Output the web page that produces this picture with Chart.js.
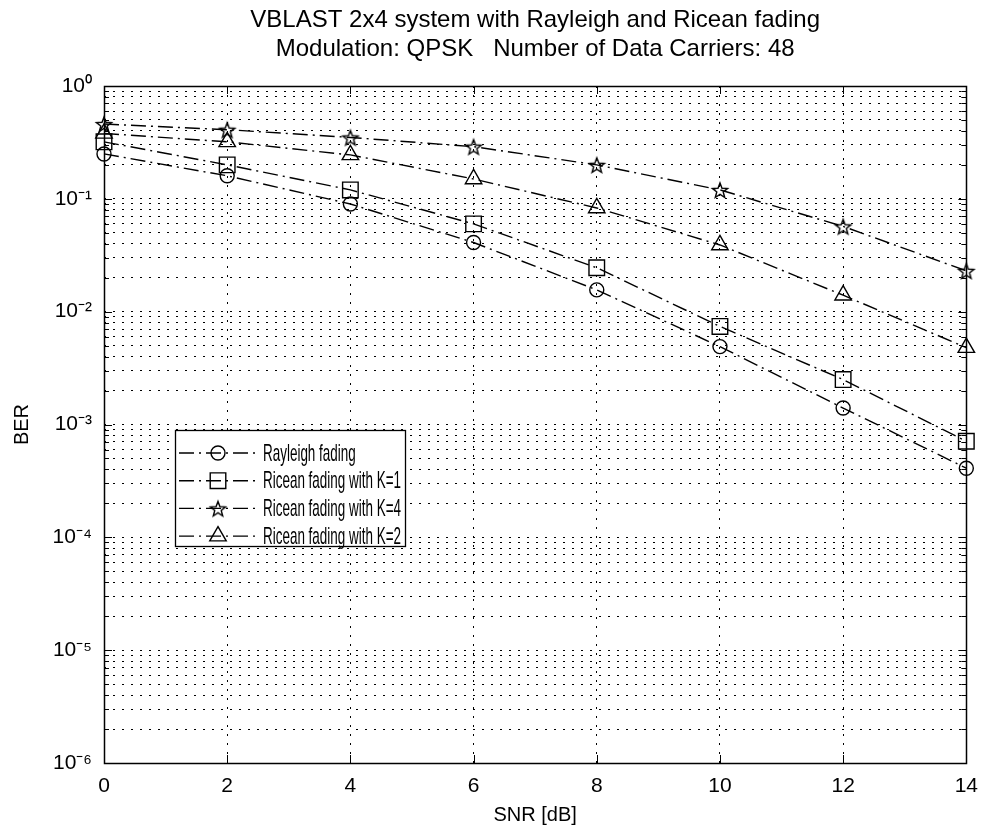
<!DOCTYPE html>
<html>
<head>
<meta charset="utf-8">
<title>VBLAST 2x4 BER</title>
<script src="https://cdn.jsdelivr.net/npm/chart.js@4.4.1/dist/chart.umd.min.js"></script>
<style>
body{margin:0;background:#fff;}
#wrap{width:989px;height:840px;}
</style>
</head>
<body>
<div id="wrap"><canvas id="berChart" width="989" height="840"></canvas></div>
<script>
// values
const snr = [0, 2, 4, 6, 8, 10, 12, 14];
const rayleigh = [0.25, 0.16, 0.09, 0.041, 0.0156, 0.0049, 0.0014, 0.00041];
const riceanK1 = [0.32, 0.20, 0.12, 0.06, 0.0245, 0.0074, 0.0025, 0.00071];
const riceanK4 = [0.46, 0.41, 0.35, 0.29, 0.20, 0.12, 0.057, 0.023];
const riceanK2 = [0.38, 0.32, 0.245, 0.15, 0.083, 0.039, 0.014, 0.0048];

const xTicks = [0, 2, 4, 6, 8, 10, 12, 14];
const yTickValues = [1, 0.1, 0.01, 0.001, 0.0001, 0.00001, 0.000001];
const yTickLabels = ['10\u2070', '10\u207B\u00B9', '10\u207B\u00B2', '10\u207B\u00B3', '10\u207B\u2074', '10\u207B\u2075', '10\u207B\u2076'];

const FONT = 'Arial, "Liberation Sans", sans-serif';
const lineDash = [15, 5, 2, 5];

// minor grid: 1..9 per decade
let yGrid = [];
yTickValues.forEach(v => {
  if (v >= 1) { yGrid.push(v); return; }
  for (let k = 1; k <= 9; k++) yGrid.push(+(v * k).toPrecision(3));
});
yGrid.sort((a, b) => a - b);

function isDecade(v){
  return yTickValues.findIndex(t => Math.abs(Math.log10(t) - Math.log10(v)) < 1e-6);
}

function makeStar(r){
  const c = document.createElement('canvas');
  const s = Math.ceil(r * 2 + 4);
  c.width = s; c.height = s;
  const g = c.getContext('2d');
  g.strokeStyle = '#000';
  g.lineWidth = 1.4;
  g.beginPath();
  for (let i = 0; i < 10; i++) {
    const rad = i % 2 ? r * 0.42 : r;
    const a = -Math.PI / 2 + i * Math.PI / 5;
    const x = s / 2 + rad * Math.cos(a), y = s / 2 + 1 + rad * Math.sin(a);
    if (i === 0) g.moveTo(x, y); else g.lineTo(x, y);
  }
  g.closePath();
  g.stroke();
  return c;
}
const starImg = makeStar(8);

function series(label, data, style, radius){
  return {
    label: label,
    data: data.map((v, i) => ({x: snr[i], y: v})),
    borderColor: '#000',
    borderWidth: 1.4,
    borderDash: lineDash,
    pointStyle: style,
    pointRadius: radius,
    pointHoverRadius: radius,
    pointBorderColor: '#000',
    pointBorderWidth: 1.4,
    pointBackgroundColor: 'rgba(0,0,0,0)',
    fill: false,
    clip: false,
    tension: 0
  };
}

// box, inward ticks and the legend inside the plot
const framePlugin = {
  id: 'frame',
  afterDraw(chart){
    const ctx = chart.ctx;
    const a = chart.chartArea;
    const xs = chart.scales.x, ys = chart.scales.y;
    ctx.save();
    ctx.strokeStyle = '#000';
    ctx.lineWidth = 1;
    ctx.setLineDash([]);
    ctx.beginPath();
    xTicks.forEach(t => {
      const px = Math.round(xs.getPixelForValue(t)) + 0.5;
      ctx.moveTo(px, a.bottom); ctx.lineTo(px, a.bottom - 8);
      ctx.moveTo(px, a.top); ctx.lineTo(px, a.top + 8);
    });
    yGrid.forEach(v => {
      const py = Math.round(ys.getPixelForValue(v)) + 0.5;
      const len = isDecade(v) >= 0 ? 8 : 5;
      ctx.moveTo(a.left, py); ctx.lineTo(a.left + len, py);
      ctx.moveTo(a.right, py); ctx.lineTo(a.right - len, py);
    });
    ctx.stroke();
    ctx.lineWidth = 1.5;
    ctx.strokeRect(Math.round(a.left) + 0.5, Math.round(a.top) + 0.5, Math.round(a.right - a.left), Math.round(a.bottom - a.top));

    // legend
    const lx = a.left + 71, ly = a.top + 344, lw = 230, lh = 116;
    ctx.fillStyle = '#fff';
    ctx.fillRect(lx, ly, lw, lh);
    ctx.lineWidth = 1.3;
    ctx.strokeRect(lx + 0.5, ly + 0.5, lw, lh);
    ctx.font = '20px ' + FONT;
    ctx.textBaseline = 'middle';
    const widest = Math.max(...chart.data.datasets.map(ds => ctx.measureText(ds.label).width));
    const squeeze = Math.min(1, 138 / widest);
    chart.data.datasets.forEach((ds, i) => {
      const ry = ly + 23 + i * 27.7;
      ctx.strokeStyle = '#000';
      ctx.lineWidth = ds.borderWidth;
      ctx.setLineDash(ds.borderDash);
      ctx.beginPath();
      ctx.moveTo(lx + 4, ry); ctx.lineTo(lx + 82, ry);
      ctx.stroke();
      ctx.setLineDash([]);
      ctx.fillStyle = 'rgba(0,0,0,0)';
      ctx.lineWidth = ds.pointBorderWidth;
      Chart.helpers.drawPoint(ctx, {pointStyle: ds.pointStyle, radius: ds.pointRadius, borderWidth: ds.pointBorderWidth, rotation: 0}, lx + 43, ry);
      ctx.fillStyle = '#000';
      ctx.save();
      ctx.translate(lx + 88, ry + 1);
      ctx.scale(squeeze, 1.18);
      ctx.fillText(ds.label, 0, 0);
      ctx.restore();
    });
    ctx.restore();
  }
};

const ctx = document.getElementById('berChart');

new Chart(ctx, {
  type: 'line',
  data: {
    datasets: [
      series('Rayleigh fading', rayleigh, 'circle', 7),
      series('Ricean fading with K=1', riceanK1, 'rect', 11),
      series('Ricean fading with K=4', riceanK4, starImg, 8),
      series('Ricean fading with K=2', riceanK2, 'triangle', 9.5)
    ]
  },
  options: {
    responsive: false,
    animation: false,
    events: [],
    layout: {padding: {left: 0, right: 12, top: 0, bottom: 0}},
    plugins: {
      legend: {display: false},
      tooltip: {enabled: false},
      title: {
        display: true,
        fullSize: false,
        text: ['VBLAST 2x4 system with Rayleigh and Ricean fading', 'Modulation: QPSK   Number of Data Carriers: 48'],
        color: '#000',
        font: {family: FONT, size: 24, weight: 'normal', lineHeight: 1.2},
        padding: {top: 6, bottom: 22.4}
      }
    },
    scales: {
      x: {
        type: 'linear',
        min: 0,
        max: 14,
        afterFit(scale){ scale.height = 77; },
        afterBuildTicks(scale){ scale.ticks = xTicks.map(v => ({value: v})); },
        ticks: {
          autoSkip: false,
          maxRotation: 0,
          padding: 11,
          color: '#000',
          font: {family: FONT, size: 21}
        },
        grid: {color: '#000', lineWidth: 1, drawTicks: false},
        border: {display: false, dash: [2, 7]},
        title: {
          display: true,
          text: 'SNR [dB]',
          color: '#000',
          font: {family: FONT, size: 20, lineHeight: 1.2},
          padding: {top: 0, bottom: 13}
        }
      },
      y: {
        type: 'logarithmic',
        min: 0.000001,
        max: 1,
        afterFit(scale){ scale.width = 104; },
        afterBuildTicks(scale){ scale.ticks = yGrid.map(v => ({value: v, major: isDecade(v) >= 0})); },
        ticks: {
          autoSkip: false,
          padding: 12,
          color: '#000',
          font: {family: FONT, size: 21},
          callback: function(value){
            const i = isDecade(value);
            return i >= 0 ? yTickLabels[i] : '';
          }
        },
        grid: {color: '#000', lineWidth: 1, drawTicks: false},
        border: {display: false, dash: [2, 7]},
        title: {
          display: true,
          text: 'BER',
          color: '#000',
          font: {family: FONT, size: 20, lineHeight: 1.2},
          padding: {top: 10, bottom: 0}
        }
      }
    }
  },
  plugins: [framePlugin]
});
</script>
</body>
</html>
